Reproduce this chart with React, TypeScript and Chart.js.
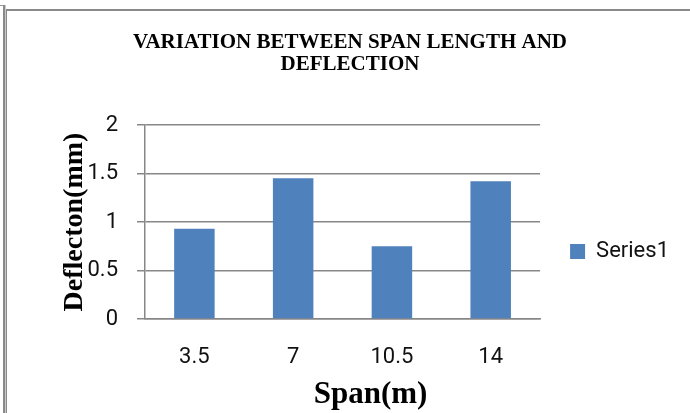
import { useEffect, useRef } from 'react';
import { Chart, registerables } from 'chart.js';

Chart.register(...registerables);

const categories = ['3.5', '7', '10.5', '14'];
const deflection = [0.93, 1.45, 0.75, 1.42];
const seriesName = 'Series1';
const chartTitle = ['VARIATION BETWEEN SPAN LENGTH AND', 'DEFLECTION'];
const yAxisTitle = 'Deflecton(mm)';
const xAxisTitle = 'Span(m)';
const yMin = 0;
const yMax = 2;
const yStep = 0.5;

const GRID = '#878787';
const BAR = '#4F81BD';
const SERIF = '"Liberation Serif", "Times New Roman", serif';
const SANS = 'Roboto, "Liberation Sans", Arial, sans-serif';

const xTitlePlugin = {
  id: 'xTitleOffset',
  afterDraw(chart: any) {
    const { ctx, chartArea } = chart;
    ctx.save();
    ctx.font = `bold 31px ${SERIF}`;
    ctx.fillStyle = '#000';
    ctx.textAlign = 'center';
    ctx.textBaseline = 'alphabetic';
    ctx.fillText(xAxisTitle, (chartArea.left + chartArea.right) / 2 + 28, chart.height - 10);
    ctx.restore();
  },
};

export default function App() {
  const ref = useRef<HTMLCanvasElement | null>(null);

  useEffect(() => {
    if (!ref.current) return;
    const chart = new Chart(ref.current, {
      type: 'bar',
      data: {
        labels: categories,
        datasets: [
          {
            label: seriesName,
            data: deflection,
            backgroundColor: BAR,
            borderWidth: 0,
            categoryPercentage: 1,
            barPercentage: 0.41,
          },
        ],
      },
      options: {
        responsive: false,
        animation: false,
        layout: { padding: { left: 21, right: 11, top: 0, bottom: 0 } },
        plugins: {
          title: {
            display: true,
            text: chartTitle,
            color: '#000',
            font: { family: SERIF, size: 21, weight: 'bold', lineHeight: '22px' },
            padding: { top: 32, bottom: 49 },
          },
          legend: {
            display: true,
            position: 'right',
            title: { display: true, text: ' ', padding: 0, font: { size: 10, lineHeight: 9.0 } },
            labels: {
              boxWidth: 15,
              boxHeight: 15,
              padding: 30,
              color: '#111',
              font: { family: SANS, size: 22 },
            },
          },
          tooltip: { enabled: false },
        },
        scales: {
          x: {
            grid: { display: false, drawTicks: false },
            border: { display: true, color: GRID, width: 1.5 },
            ticks: { color: '#111', font: { family: SANS, size: 22 }, padding: 25 },
            afterFit: (s: any) => {
              s.height = 94;
            },
          },
          y: {
            min: yMin,
            max: yMax,
            ticks: {
              stepSize: yStep,
              color: '#111',
              font: { family: SANS, size: 22 },
              padding: 19,
              callback: (v: any) => String(Number(v)),
            },
            grid: { color: GRID, lineWidth: 1.5, drawTicks: true, tickLength: 8, tickColor: GRID },
            border: { display: true, color: GRID, width: 1.5 },
            title: {
              display: true,
              text: yAxisTitle,
              color: '#000',
              font: { family: SERIF, size: 28, weight: 'bold' },
              padding: { top: 37, bottom: 0 },
            },
            afterFit: (s: any) => {
              s.width = 124;
            },
          },
        },
      },
      plugins: [xTitlePlugin],
    });
    return () => chart.destroy();
  }, []);

  return (
    <div style={{ position: 'fixed', left: 0, top: 0, width: 690, height: 413, background: '#fff', overflow: 'hidden' }}>
      <div style={{ position: 'absolute', left: 0, top: 5, width: 5, height: 1, background: '#999' }} />
      <div style={{ position: 'absolute', left: 3, top: 5, width: 2, height: 408, background: '#8a8a8a' }} />
      <div style={{ position: 'absolute', left: 5, top: 5, width: 1, height: 408, background: '#c8c8c8' }} />
      <div style={{ position: 'absolute', left: 6, top: 9, width: 1, height: 404, background: '#8a8a8a' }} />
      <div style={{ position: 'absolute', left: 6, top: 9, width: 684, height: 2, background: '#8a8a8a' }} />
      <canvas ref={ref} width={690} height={413} style={{ position: 'absolute', left: 0, top: 0 }} />
    </div>
  );
}
